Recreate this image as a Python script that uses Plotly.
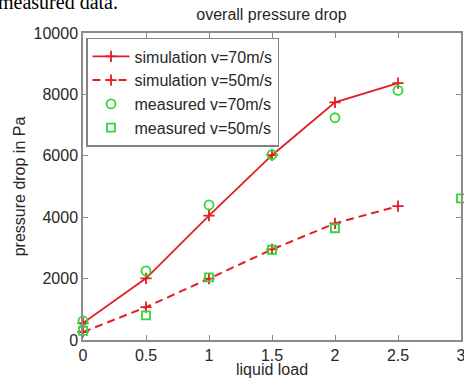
import plotly.graph_objects as go

# ---- data ----
liquid_load = [0, 0.5, 1, 1.5, 2, 2.5]
sim_v70 = [550, 2010, 4050, 6020, 7740, 8370]
sim_v50 = [260, 1070, 2000, 2950, 3800, 4360]
meas_x = [0, 0.5, 1, 1.5, 2, 2.5]
meas_v70 = [620, 2250, 4400, 6040, 7240, 8130]
meas50_x = [0, 0.5, 1, 1.5, 2, 3]
meas_v50 = [300, 800, 2040, 2940, 3640, 4610]

x_ticks = [0, 0.5, 1, 1.5, 2, 2.5, 3]
x_ticktext = ["0", "0.5", "1", "1.5", "2", "2.5", "3"]
y_ticks = [0, 2000, 4000, 6000, 8000, 10000]
y_ticktext = ["0", "2000", "4000", "6000", "8000", "10000"]

RED = "rgb(228,28,38)"
GREEN = "rgb(50,215,50)"
AXC = "rgb(140,140,140)"
TXT = "rgb(40,40,40)"
FONT = "Liberation Sans, Arial, sans-serif"

fig = go.Figure()
fig.add_trace(go.Scatter(
    x=liquid_load, y=sim_v70, name="simulation v=70m/s", mode="lines+markers",
    line=dict(color=RED, width=1.8),
    marker=dict(symbol="cross-thin", size=8, line=dict(color=RED, width=1.8)),
    cliponaxis=False))
fig.add_trace(go.Scatter(
    x=liquid_load, y=sim_v50, name="simulation v=50m/s", mode="lines+markers",
    line=dict(color=RED, width=2, dash="8px,5px"),
    marker=dict(symbol="cross-thin", size=8, line=dict(color=RED, width=1.8)),
    cliponaxis=False))
fig.add_trace(go.Scatter(
    x=meas_x, y=meas_v70, name="measured v=70m/s", mode="markers",
    marker=dict(symbol="circle-open", size=9, color=GREEN, line=dict(color=GREEN, width=1.8)),
    cliponaxis=False))
fig.add_trace(go.Scatter(
    x=meas50_x, y=meas_v50, name="measured v=50m/s", mode="markers",
    marker=dict(symbol="square-open", size=8, color=GREEN, line=dict(color=GREEN, width=1.8)),
    cliponaxis=False))

axis_common = dict(showgrid=False, zeroline=False, showline=True, mirror="ticks",
                   linecolor=AXC, linewidth=1.5, ticks="inside", ticklen=5,
                   tickcolor=AXC, tickwidth=1.2, automargin=False,
                   ticklabeloverflow="allow",
                   tickfont=dict(family=FONT, size=16, color=TXT))

fig.update_xaxes(range=[0, 3], tickmode="array", tickvals=x_ticks, ticktext=x_ticktext,
                 title=dict(text="liquid load", font=dict(family=FONT, size=16, color=TXT), standoff=0),
                 **axis_common)
fig.update_yaxes(range=[0, 10000], tickmode="array", tickvals=y_ticks, ticktext=y_ticktext,
                 title=dict(text="pressure drop in Pa", font=dict(family=FONT, size=16, color=TXT), standoff=4),
                 **axis_common)

fig.update_layout(
    width=464, height=378,
    margin=dict(l=83, r=3, t=33, b=38, pad=0, autoexpand=False),
    paper_bgcolor="white", plot_bgcolor="white",
    title=dict(text="overall pressure drop", x=0.585, xanchor="center", y=0.962, yanchor="middle",
               font=dict(family=FONT, size=16, color=TXT)),
    legend=dict(x=0.008, y=0.984, xanchor="left", yanchor="top",
                bgcolor="white", bordercolor="rgb(130,130,130)", borderwidth=1.5,
                font=dict(family=FONT, size=16, color=TXT), itemwidth=37,
                tracegroupgap=0),
    showlegend=True,
    annotations=[dict(text="measured data.", xref="paper", yref="paper",
                      x=-0.23, y=(340 - 15) / 307, xanchor="left", yanchor="bottom",
                      showarrow=False,
                      font=dict(family="Liberation Serif, Times New Roman, serif", size=20, color="black"))],
)

fig.write_html("out.html", config={"displayModeBar": False},
               post_script="document.body.style.margin='0';")
